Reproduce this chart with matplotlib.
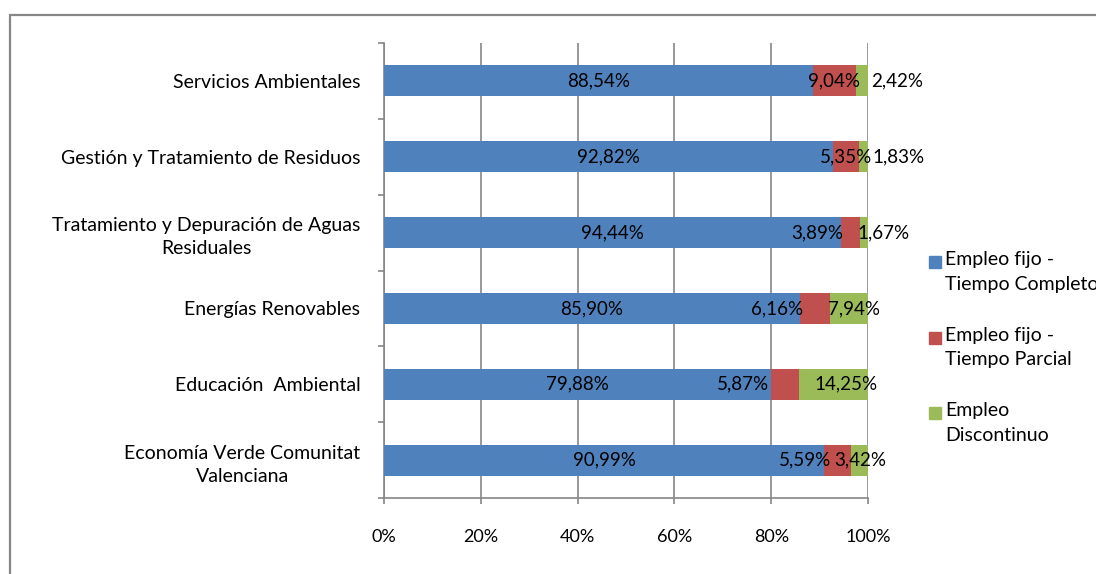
import matplotlib
matplotlib.use('Agg')
from matplotlib import pyplot as plt
from matplotlib.patches import Rectangle
from matplotlib.ticker import FixedLocator, PercentFormatter

# datos (de arriba a abajo)
sectores = ['Servicios Ambientales',
            'Gestión y Tratamiento de Residuos',
            'Tratamiento y Depuración de Aguas\nResiduales',
            'Energías Renovables',
            'Educación  Ambiental',
            'Economía Verde Comunitat\nValenciana']
completo = [88.54, 92.82, 94.44, 85.90, 79.88, 90.99]
parcial = [9.04, 5.35, 3.89, 6.16, 5.87, 5.59]
discontinuo = [2.42, 1.83, 1.67, 7.94, 14.25, 3.42]
series = ['Empleo fijo -\nTiempo Completo', 'Empleo fijo -\nTiempo Parcial', 'Empleo\nDiscontinuo']

colores = ['#4F81BD', '#C0504D', '#9BBB59']
# desplazamiento de etiquetas (px) como lo hace Excel
desp_parcial = [0, 0, -33, -38, -42, -33]
desp_disc = [35, 35, 20, 5, 12, 0]

if __name__ == '__main__':
    plt.rcParams['font.family'] = ['Lato', 'DejaVu Sans']
    W, H = 1096, 574
    fig = plt.figure(figsize=(W / 100, H / 100), dpi=100)
    ax = fig.add_axes([384 / W, 1 - 498 / H, 484 / W, 455 / H])

    px = 72 / 100.0
    fs = 14
    gris = '#868686'
    y = list(range(len(sectores)))
    izq = [0] * len(y)
    valores = [completo, parcial, discontinuo]
    desps = [[0] * len(y), desp_parcial, desp_disc]
    for vals, col, desp in zip(valores, colores, desps):
        ax.barh(y, vals, left=izq, height=0.41, color=col, zorder=3)
        for yi, v, l, d in zip(y, vals, izq, desp):
            etiqueta = ('%.2f%%' % v).replace('.', ',')
            ax.annotate(etiqueta, xy=(l + v / 2, yi), xytext=(d * px, 0),
                        textcoords='offset points', ha='center', va='center',
                        fontsize=13.5, color='black', zorder=5)
        izq = [a + b for a, b in zip(izq, vals)]

    ax.set_xlim(0, 100)
    ax.set_ylim(len(y) - 0.5, -0.5)
    ax.set_xticks([0, 20, 40, 60, 80, 100])
    ax.xaxis.set_major_formatter(PercentFormatter(decimals=0))
    ax.set_yticks(y)
    ax.set_yticklabels(sectores, multialignment='center', linespacing=1.45)
    ax.yaxis.set_minor_locator(FixedLocator([i - 0.5 for i in range(len(y) + 1)]))
    ax.tick_params(axis='y', which='major', length=0, pad=17, labelsize=fs)
    ax.tick_params(axis='y', which='minor', length=4, color=gris, width=1.2)
    ax.tick_params(axis='x', length=4, color=gris, width=1.2, pad=18, labelsize=13)
    ax.grid(axis='x', color=gris, linewidth=1.2, zorder=0)
    for s in ['top', 'right']:
        ax.spines[s].set_visible(False)
    for s in ['left', 'bottom']:
        ax.spines[s].set_color(gris)
        ax.spines[s].set_linewidth(1.2)

    # leyenda al estilo Excel: cuadro alineado con la primera línea
    for i, (nombre, col) in enumerate(zip(series, colores)):
        yc = 262 + i * 75.5
        fig.patches.append(Rectangle((929 / W, 1 - (yc + 6) / H), 12 / W, 12 / H,
                                     transform=fig.transFigure, color=col))
        fig.text(945 / W, 1 - (yc - 11) / H, nombre, ha='left', va='top',
                 fontsize=fs, linespacing=1.56)

    fig.patches.append(Rectangle((10 / W, -0.1), 1.2, 1 - 15 / H + 0.1,
                                 transform=fig.transFigure, fill=False,
                                 edgecolor=gris, linewidth=1.6))
    fig.savefig('out.png', dpi=100)
